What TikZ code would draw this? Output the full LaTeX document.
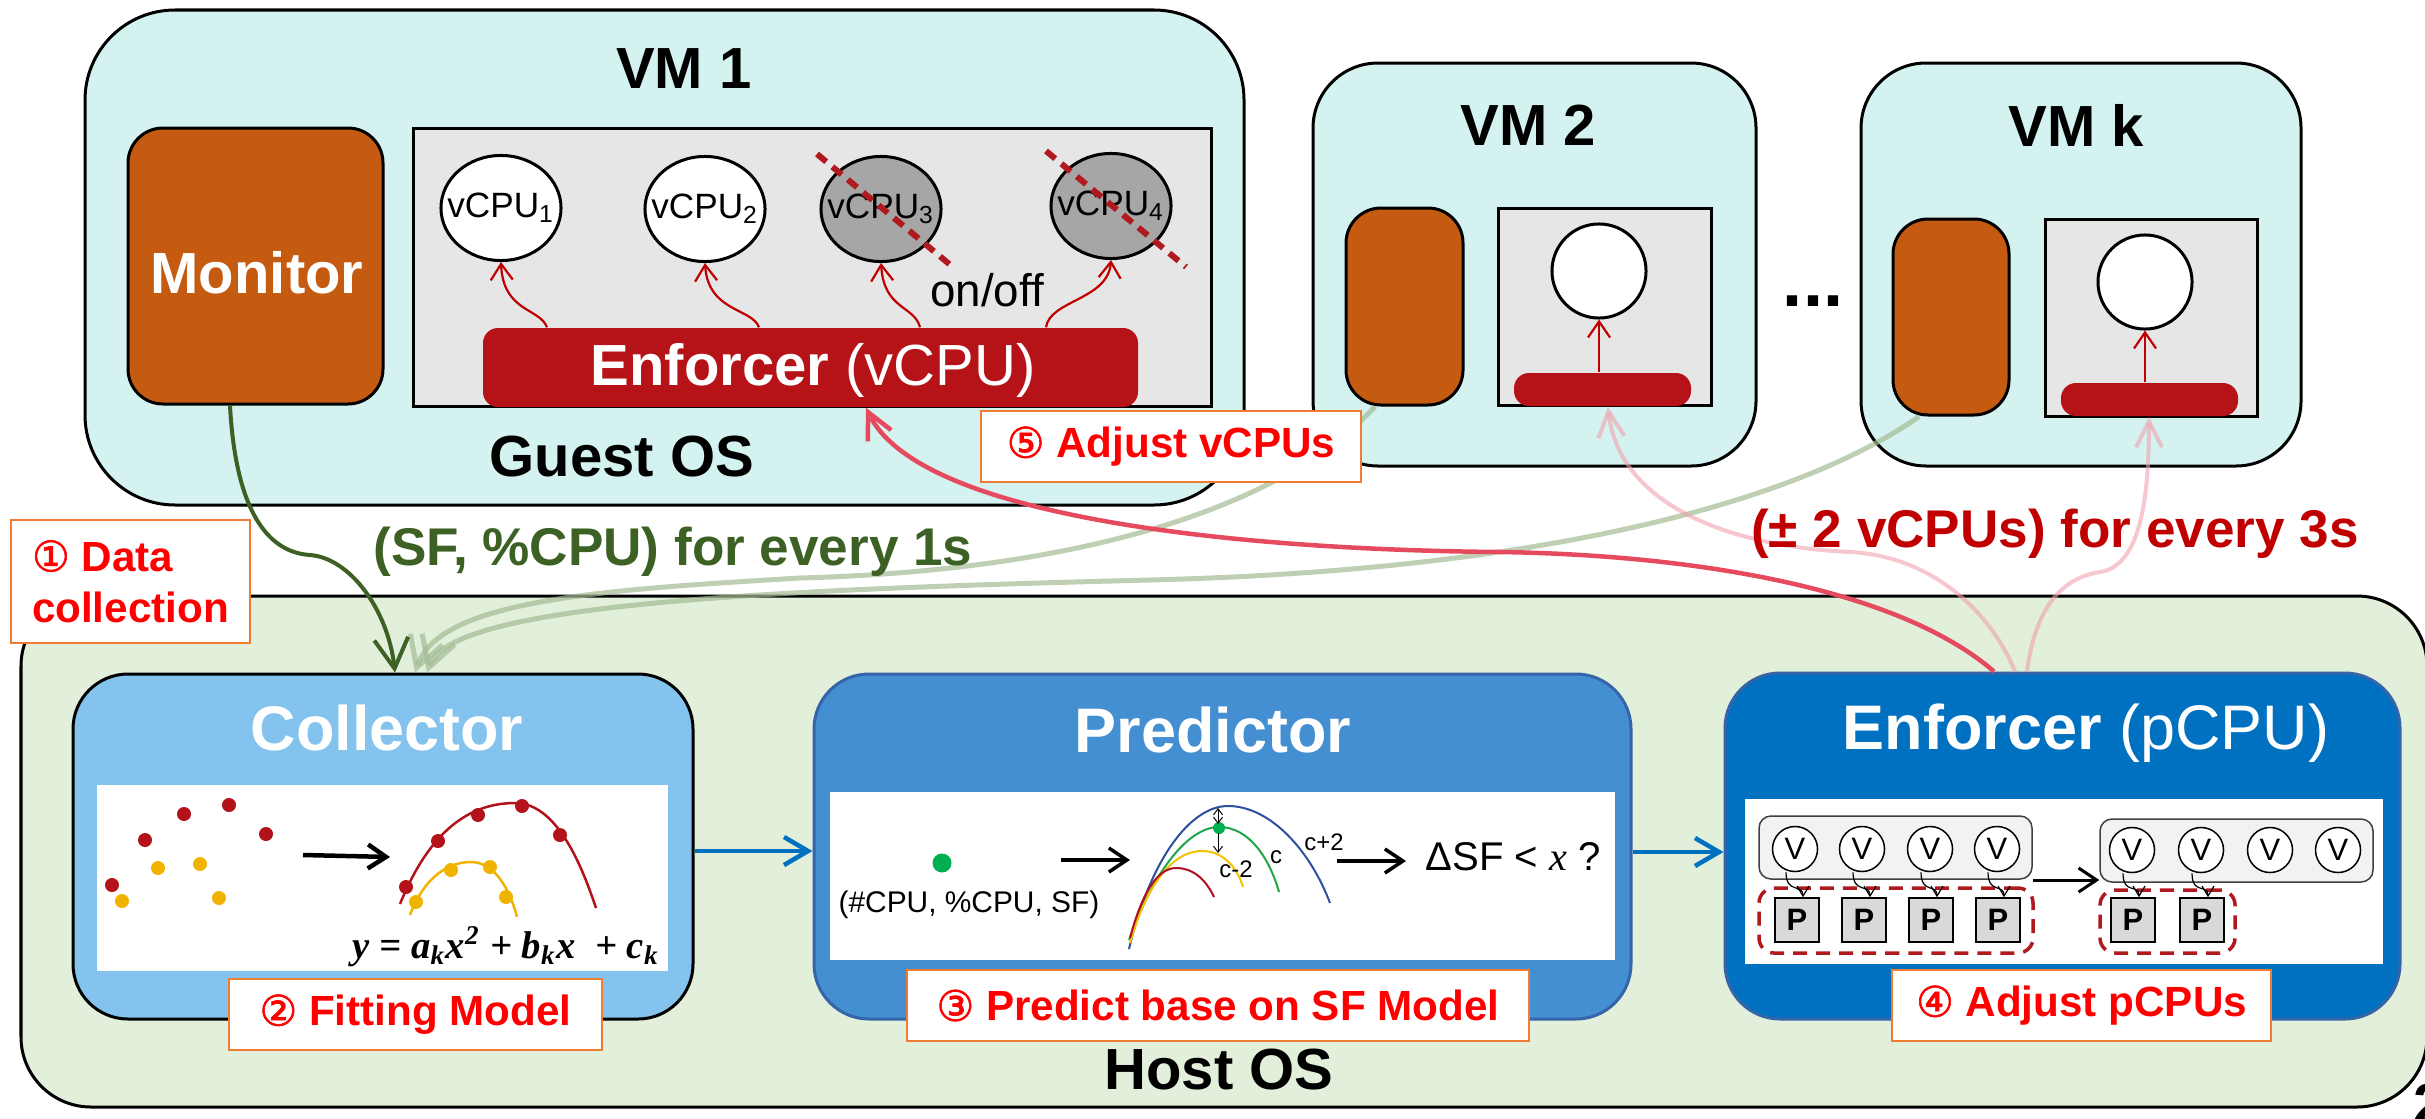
\documentclass[tikz,border=0pt]{standalone}
\usepackage{fontspec}
\setmainfont{Liberation Sans}
\newfontfamily\circfont[FakeBold=1.5]{DejaVu Sans}
\newfontfamily\eqfont{Liberation Serif}
\usetikzlibrary{arrows.meta,fit,calc,shapes.geometric}

\definecolor{vmc}{HTML}{D4F2F0}
\definecolor{hostc}{HTML}{E2EFDA}
\definecolor{monc}{HTML}{C55A11}
\definecolor{barc}{HTML}{B51317}
\definecolor{guestc}{HTML}{E6E6E6}
\definecolor{offc}{HTML}{A6A6A6}
\definecolor{collc}{HTML}{83C3ED}
\definecolor{predc}{HTML}{448ED2}
\definecolor{enfc}{HTML}{0070C0}
\definecolor{edgeblue}{HTML}{3565A8}
\definecolor{labc}{HTML}{F07B32}
\definecolor{labtext}{HTML}{FF0000}
\definecolor{dgreen}{HTML}{3D6125}
\definecolor{dred}{HTML}{C00000}
\definecolor{crossc}{HTML}{B0191E}
\definecolor{adjc}{HTML}{E64A5E}
\definecolor{pinkc}{HTML}{F0A2AD}
\definecolor{sagec}{HTML}{A3BB94}
\definecolor{dotred}{HTML}{B3121B}
\definecolor{dotyel}{HTML}{F0B400}
\definecolor{dotgrn}{HTML}{00B050}
\definecolor{crvblue}{HTML}{2F4FA0}
\definecolor{crvgrn}{HTML}{1FA64A}
\definecolor{crvyel}{HTML}{F2C200}
\definecolor{crvred}{HTML}{B01020}
\definecolor{pgray}{HTML}{D9D9D9}

\newcommand\circnum[1]{{\circfont\mdseries #1}}
\newcommand\eqsub[1]{\textsubscript{#1}}
\newcommand\eqsup[1]{\textsuperscript{#1}}

\begin{document}
\begin{tikzpicture}[x=0.01cm, y=-0.01cm,
  vmbox/.style={draw=black, line width=0.3mm, fill=vmc, inner sep=0pt},
  monbox/.style={draw=black, line width=0.3mm, fill=monc, rounded corners=3.5mm, inner sep=0pt},
  guestbox/.style={draw=black, line width=0.3mm, fill=guestc, inner sep=0pt},
  enfbar/.style={fill=barc, rounded corners=1.5mm, inner sep=0pt},
  bigtext/.style={inner sep=0pt, font=\fontsize{16.5}{19}\selectfont},
  vcpu/.style={ellipse, draw=black, line width=0.3mm, fill=white, minimum width=1.2cm,
    minimum height=1.05cm, inner sep=0pt},
  vcpuoff/.style={vcpu, fill=offc},
  vcputext/.style={inner sep=0pt, font=\fontsize{10}{12}\selectfont},
  vsmall/.style={circle, draw=black, line width=0.3mm, fill=white, minimum size=0.94cm, inner sep=0pt},
  vmtitle/.style={inner sep=0pt, font=\bfseries\fontsize{16.5}{19}\selectfont},
  modbox/.style={line width=0.3mm, rounded corners=5.5mm, inner sep=0pt},
  modtitle/.style={inner sep=0pt, text=white, font=\fontsize{17.9}{21}\selectfont},
  panel/.style={fill=white, inner sep=0pt},
  steplabel/.style={draw=labc, line width=0.25mm, fill=white, inner sep=0pt},
  steptext/.style={text=labtext, inner sep=0pt, font=\bfseries\fontsize{12}{14.5}\selectfont},
  ball/.style={circle, fill=#1, minimum size=0.14cm, inner sep=0pt},
  vnode/.style={circle, draw=black, line width=0.15mm, fill=white, minimum size=0.45cm,
    inner sep=0pt, font=\fontsize{8.8}{10}\selectfont},
  pnode/.style={draw=black, line width=0.15mm, fill=pgray, minimum size=0.44cm, inner sep=0pt,
    font=\bfseries\fontsize{8.8}{10}\selectfont},
  grp/.style={draw=black!75, line width=0.15mm, fill=black!5, rounded corners=1.2mm, inner sep=0pt},
  dashgrp/.style={draw=crossc, line width=0.35mm, dash pattern=on 1.4mm off 0.9mm,
    rounded corners=1.5mm, inner sep=0pt},
  crossline/.style={draw=crossc, line width=0.6mm, dash pattern=on 1.2mm off 0.8mm},
  varrow/.style={draw=dred, line width=0.22mm, -{Straight Barb[length=1.6mm,width=2.2mm]}},
  flow/.style={draw=enfc, line width=0.45mm, -{Straight Barb[length=2.4mm,width=2.8mm]}},
  blk/.style={draw=black, line width=0.35mm, -{Straight Barb[length=1.8mm,width=2.4mm]}},
  mongreen/.style={draw=dgreen, line width=0.4mm, -{Straight Barb[length=3mm,width=3.4mm]}},
  sage/.style={draw=sagec, draw opacity=0.7, line width=0.5mm, -{Straight Barb[length=3mm,width=3.4mm]}},
  adjust/.style={draw=adjc, line width=0.45mm, -{Straight Barb[length=2.6mm,width=2.6mm]}},
  pinkarr/.style={draw=pinkc, draw opacity=0.6, line width=0.4mm, -{Straight Barb[length=2.6mm,width=2.6mm]}},
  vp/.style={draw=black, line width=0.12mm, -{Straight Barb[length=1mm,width=1.2mm]}},
]
\useasboundingbox (0,0) rectangle (2425,1118);

% ---------------- Guest side: VM 1 ----------------
\node[vmbox, rounded corners=9mm, fit={(85,10) (1244,505)}] (vm1) {};
\node[vmtitle] (vm1t) at (684,69) {VM 1};
\node[monbox, fit={(128,128) (383,404)}] (mon1) {};
\node[bigtext, text=white, font=\bfseries\fontsize{16.5}{19}\selectfont] (mon1t) at (257,273) {Monitor};
\node[guestbox, fit={(413,128) (1211,406)}] (guest1) {};
\node[vcpu] (v1) at (501,208) {};
\node[vcpu] (v2) at (705,209) {};
\node[vcpuoff] (v3) at (881,209) {};
\node[vcpuoff] (v4) at (1111,206) {};
\node[vcputext] (v1t) at (v1.center) {vCPU\textsubscript{1}};
\node[vcputext] (v2t) at (v2.center) {vCPU\textsubscript{2}};
\node[vcputext] (v3t) at (v3.center) {vCPU\textsubscript{3}};
\node[vcputext] (v4t) at (v4.center) {vCPU\textsubscript{4}};
\draw[crossline] (817,154) -- (954,268);
\draw[crossline] (1046,151) -- (1186,267);
\node[enfbar, fit={(483,328) (1138,407)}] (encV) {};
\node[bigtext, text=white] (encVt) at (813,370) {\textbf{Enforcer} (vCPU)};
\node[inner sep=0pt, font=\fontsize{13}{15}\selectfont] (onoff) at (987,290) {on/off};
\node[vmtitle] (gos) at (622,457) {Guest OS};
\draw[varrow] (encV.north -| 547,0) .. controls (540,308) and (503,312) .. (v1.south);
\draw[varrow] (encV.north -| 759,0) .. controls (752,308) and (708,312) .. (v2.south);
\draw[varrow] (encV.north -| 920,0) .. controls (914,305) and (884,310) .. (v3.south);
\draw[varrow] (encV.north -| 1046,0) .. controls (1050,300) and (1108,300) .. (v4.south);

% ---------------- VM 2 ----------------
\node[vmbox, rounded corners=6.5mm, fit={(1313,63) (1756,466)}] (vm2) {};
\node[vmtitle] (vm2t) at (1528,125) {VM 2};
\node[monbox, fit={(1346,208) (1463,405)}] (mon2) {};
\node[guestbox, fit={(1498,208) (1711,405)}] (guest2) {};
\node[vsmall] (vc2) at (1599,271) {};
\node[enfbar, fit={(1514,373) (1691,406)}] (bar2) {};
\draw[varrow] (bar2.north -| vc2.south) -- (vc2.south);

\node[anchor=base, inner sep=0pt, font=\bfseries\fontsize{20.5}{22}\selectfont] (dots) at (1813,306) {...};

% ---------------- VM k ----------------
\node[vmbox, rounded corners=6.5mm, fit={(1861,63) (2301,466)}] (vmk) {};
\node[vmtitle] (vmkt) at (2076,125) {VM k};
\node[monbox, fit={(1893,219) (2009,415)}] (monk) {};
\node[guestbox, fit={(2045,219) (2257,416)}] (guestk) {};
\node[vsmall] (vck) at (2145,282) {};
\node[enfbar, fit={(2061,383) (2238,416)}] (bark) {};
\draw[varrow] (bark.north -| vck.south) -- (vck.south);

% ---------------- Host side ----------------
\node[draw=black, line width=0.3mm, fill=hostc, rounded corners=7mm, inner sep=0pt,
      fit={(21,596) (2427,1107)}] (host) {};
\node[vmtitle] (hos) at (1219,1070) {Host OS};
\node[anchor=base west, inner sep=0pt, font=\bfseries\fontsize{16.5}{19}\selectfont] (pgno) at (2413,1124) {2};

% Collector
\node[modbox, draw=black, fill=collc, fit={(73,674) (693,1019)}] (coll) {};
\node[modtitle] (collt) at (387,728) {\textbf{Collector}};
\node[panel, fit={(97,785) (668,971)}] (collp) {};
\foreach \px/\py in {145/840, 184/814, 229/805, 266/834, 112/885}
  \node[ball=dotred] at (\px,\py) {};
\foreach \px/\py in {158/868, 200/864, 122/901, 219/898}
  \node[ball=dotyel] at (\px,\py) {};
\coordinate (fa) at (303,855);
\coordinate (fb) at (390,857);
\draw[blk, line width=0.45mm] (fa) -- (fb);
\draw[dotred, line width=0.25mm] (400,904) .. controls (430,830) and (470,803) .. (515,803)
  .. controls (555,803) and (580,860) .. (596,908);
\draw[dotyel, line width=0.25mm] (410,915) .. controls (425,875) and (450,862) .. (471,862)
  .. controls (495,862) and (510,890) .. (517,917);
\foreach \px/\py in {406/887, 438/841, 478/815, 522/806, 560/835}
  \node[ball=dotred] at (\px,\py) {};
\foreach \px/\py in {416/902, 451/870, 490/867, 506/897}
  \node[ball=dotyel] at (\px,\py) {};
\node[inner sep=0pt, font=\eqfont\bfseries\itshape\fontsize{11}{13}\selectfont] (eqn) at (506,947) {y = a\eqsub{k}x\eqsup{2} + b\eqsub{k}x \ + c\eqsub{k}};

% Predictor
\node[modbox, draw=edgeblue, fill=predc, fit={(814,674) (1631,1019)}] (pred) {};
\node[modtitle] (predt) at (1213,730) {\textbf{Predictor}};
\node[panel, fit={(830,792) (1615,960)}] (predp) {};
\node[ball=dotgrn, minimum size=0.19cm] (gdot) at (942,863) {};
\node[inner sep=0pt, font=\fontsize{8.5}{10}\selectfont] (tuple) at (969,905) {(\#CPU, \%CPU, SF)};
\coordinate (pa) at (1061,860);
\coordinate (pb) at (1130,860);
\draw[blk] (pa) -- (pb);
\draw[crvblue, line width=0.2mm] (1129,949) .. controls (1150,860) and (1190,806) .. (1228,806)
  .. controls (1270,806) and (1310,850) .. (1330,903);
\draw[crvgrn, line width=0.2mm] (1129,940) .. controls (1150,880) and (1185,827) .. (1219,827)
  .. controls (1250,827) and (1270,860) .. (1279,892);
\draw[crvyel, line width=0.2mm] (1130,943) .. controls (1145,890) and (1170,851) .. (1202,851)
  .. controls (1225,851) and (1238,870) .. (1243,887);
\draw[crvred, line width=0.2mm] (1130,938) .. controls (1140,900) and (1155,868) .. (1176,868)
  .. controls (1195,868) and (1207,882) .. (1214,897);
\node[ball=dotgrn, minimum size=0.12cm] (gpk) at (1219,828) {};
\draw[black, line width=0.1mm, {Straight Barb[length=0.6mm,width=0.9mm]}-{Straight Barb[length=0.6mm,width=0.9mm]}] (1218,808) -- (1218,824);
\draw[black, line width=0.1mm, -{Straight Barb[length=0.6mm,width=0.9mm]}] (1218,833) -- (1218,853);
\node[inner sep=0pt, font=\fontsize{6.8}{8}\selectfont] (lc2) at (1324,842) {c+2};
\node[inner sep=0pt, font=\fontsize{6.8}{8}\selectfont] (lc0) at (1276,857) {c};
\node[inner sep=0pt, font=\fontsize{6.8}{8}\selectfont] (lcm) at (1236,869) {c-2};
\coordinate (pc) at (1337,861);
\coordinate (pd) at (1406,861);
\draw[blk] (pc) -- (pd);
\node[inner sep=0pt, font=\fontsize{11.4}{13}\selectfont] (cond) at (1513,857) {ΔSF < {\eqfont\itshape x} ?};

% Enforcer (pCPU)
\node[modbox, draw=edgeblue, fill=enfc, fit={(1725,673) (2400,1019)}] (enfP) {};
\node[modtitle] (enfPt) at (2086,733) {\textbf{Enforcer} (pCPU)};
\node[panel, fit={(1745,799) (2383,964)}] (enfp) {};
\node[grp, fit={(1759,816) (2032,879)}] (g1) {};
\node[grp, fit={(2100,819) (2373,882)}] (g2) {};
\node[dashgrp, fit={(1759,888) (2033,953)}] (d1) {};
\node[dashgrp, fit={(2100,890) (2235,953)}] (d2) {};
\foreach \i/\vx/\px in {1/1795/1797, 2/1862/1864, 3/1930/1931, 4/1997/1998} {
  \node[vnode] (va\i) at (\vx,849) {V};
  \node[pnode] (pa\i) at (\px,920) {P};
  \draw[vp] ([xshift=-0.09cm]va\i.south) .. controls ($(va\i.south)+(-9,22)$) and ($(pa\i.north)+(6,-14)$) .. ([xshift=0.06cm]pa\i.north);
}
\foreach \i/\vx in {1/2132, 2/2201, 3/2270, 4/2338}
  \node[vnode] (vb\i) at (\vx,850) {V};
\foreach \i/\px in {1/2133, 2/2202} {
  \node[pnode] (pb\i) at (\px,920) {P};
  \draw[vp] ([xshift=-0.09cm]vb\i.south) .. controls ($(vb\i.south)+(-9,22)$) and ($(pb\i.north)+(6,-14)$) .. ([xshift=0.06cm]pb\i.north);
}
\draw[blk, line width=0.3mm] (g1.east |- 0,880) -- (g2.west |- 0,880);

% Pipeline arrows
\draw[flow] (coll.east |- 0,851) -- (pred.west |- 0,851);
\draw[flow] (pred.east |- 0,852) -- (enfP.west |- 0,852);

% ---------------- Connectors between guests and host ----------------
\draw[sage] (mon2.south -| 1375,0) .. controls (1290,500) and (1100,570) .. (800,578)
  .. controls (600,590) and (440,600) .. (coll.north -| 415,0);
\draw[sage] (monk.south -| 1919,0) .. controls (1800,500) and (1550,570) .. (1150,580)
  .. controls (750,590) and (450,605) .. (coll.north -| 427,0);
\draw[mongreen] (mon1.south -| 230,0) .. controls (235,500) and (262,552) .. (310,555)
  .. controls (350,558) and (388,610) .. (coll.north -| 395,0);
\draw[pinkarr] (enfP.north -| 2015,0) .. controls (1990,610) and (1930,556) .. (1850,552)
  .. controls (1720,546) and (1618,500) .. (bar2.south -| 1608,0);
\draw[pinkarr] (enfP.north -| 2027,0) .. controls (2035,610) and (2060,578) .. (2100,572)
  .. controls (2140,566) and (2149,500) .. (bark.south -| 2149,0);
\draw[adjust] (enfP.north -| 1994,0) .. controls (1900,590) and (1700,555) .. (1500,552)
  .. controls (1250,550) and (920,520) .. (encV.south -| 866,0);

% ---------------- Step labels and rates ----------------
\node[steplabel, fit={(11,520) (250,643)}] (lab1) {};
\node[steptext, align=left] (lab1t) at (lab1.center) {\circnum{①} Data\\collection};
\node[steplabel, fit={(229,979) (602,1050)}] (lab2) {};
\node[steptext] (lab2t) at (lab2.center) {\circnum{②} Fitting Model};
\node[steplabel, fit={(907,970) (1529,1041)}] (lab3) {};
\node[steptext] (lab3t) at (lab3.center) {\circnum{③} Predict base on SF Model};
\node[steplabel, fit={(1892,970) (2271,1041)}] (lab4) {};
\node[steptext] (lab4t) at (lab4.center) {\circnum{④} Adjust pCPUs};
\node[steplabel, fit={(981,411) (1361,482)}] (lab5) {};
\node[steptext] (lab5t) at (lab5.center) {\circnum{⑤} Adjust vCPUs};
\node[inner sep=0pt, text=dgreen, font=\bfseries\fontsize{15.1}{18}\selectfont] (rate1) at (673,552) {(SF, \%CPU) for every 1s};
\node[inner sep=0pt, text=dred, font=\bfseries\fontsize{15.1}{18}\selectfont] (rate3) at (2055,534) {(± 2 vCPUs) for every 3s};
\end{tikzpicture}
\end{document}
